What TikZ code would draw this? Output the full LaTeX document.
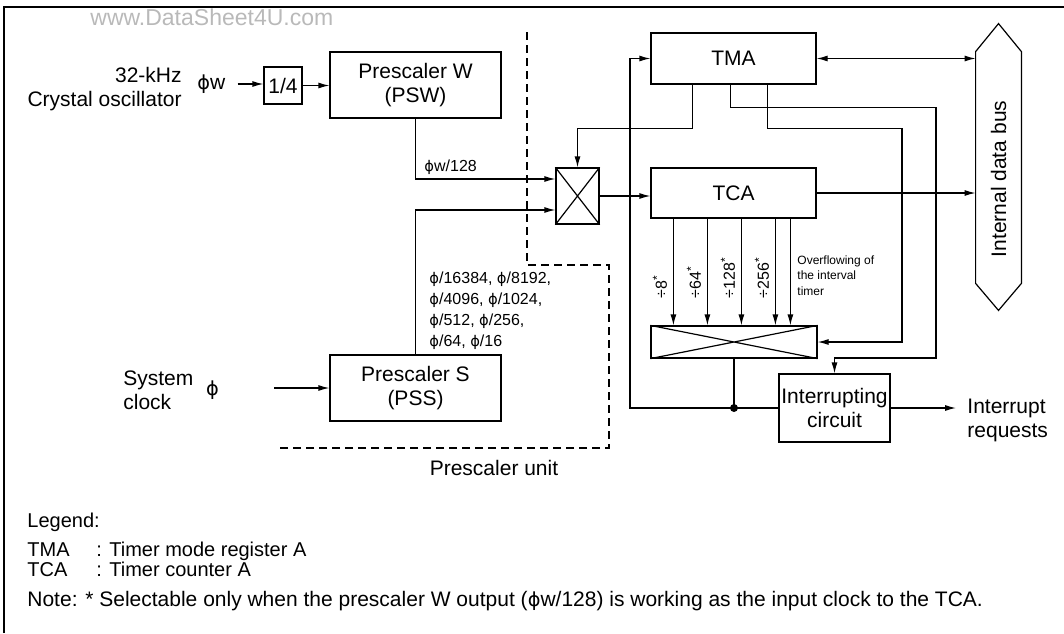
\documentclass[tikz,border=0pt]{standalone}
\usepackage{fontspec}
\setmainfont{Liberation Sans}
\newfontfamily\symfont{DejaVu Sans}[Scale=0.92]
\usetikzlibrary{arrows.meta,positioning,calc}
\newcommand{\ph}{{\symfont\char"03D5}}

\begin{document}
\begin{tikzpicture}[x=0.5pt,y=-0.5pt,font=\fontsize{10.5}{12}\selectfont,
blk/.style={draw,line width=0.6pt,inner sep=0pt,align=center},
lbl/.style={inner sep=0pt,align=left},
key/.style={lbl,anchor=base west,font=\fontsize{10}{12}\selectfont},
small/.style={font=\fontsize{8}{10.5}\selectfont},
tiny/.style={font=\fontsize{6}{7.8}\selectfont},
ln/.style={line width=0.6pt},
arr/.style={-{Latex[length=5.5pt,width=3pt]},line width=0.6pt},
dblarr/.style={{Latex[length=5.5pt,width=3pt]}-{Latex[length=5.5pt,width=3pt]},line width=0.6pt}]
\useasboundingbox (0,0) rectangle (1064,633);
\draw[line width=1pt] (4,633) -- (4,7) -- (1064,7);
\node[lbl,anchor=west,text=gray!55,font=\fontsize{11.5}{12}\selectfont] (wm) at (90,17) {www.DataSheet4U.com};
\node[blk,minimum width=19pt,minimum height=18.5pt] (quarter) at (283,85.5) {1/4};
\node[blk,minimum width=85.5pt,minimum height=33pt] (psw) at (415.5,85) {Prescaler W\\(PSW)};
\node[blk,minimum width=85.5pt,minimum height=33pt] (pss) at (415.5,388) {Prescaler S\\(PSS)};
\node[blk,minimum width=21.5pt,minimum height=28pt] (mux) at (577.5,196) {};
\node[blk,minimum width=82.5pt,minimum height=25.5pt] (tma) at (733.5,58.5) {TMA};
\node[blk,minimum width=82.5pt,minimum height=25pt] (tca) at (733.5,193) {TCA};
\node[blk,minimum width=83pt,minimum height=16pt] (sel) at (734,342) {};
\node[blk,minimum width=55.5pt,minimum height=34pt] (intc) at (834.5,408) {Interrupting\\circuit};
\node[minimum width=22.5pt,minimum height=115.5pt,inner sep=0pt] (bus) at (998.5,167.5) {};
\node[rotate=90] (buslbl) at (998.5,179) {Internal data bus};
\draw[ln] (bus.north west) -- ($(bus.north)+(0,-28)$) -- (bus.north east) -- (bus.south east) -- ($(bus.south)+(0,27)$) -- (bus.south west) -- cycle;
\draw[ln] (mux.north west) -- (mux.south east) (mux.south west) -- (mux.north east);
\draw[ln] (sel.north west) -- (sel.south east) (sel.south west) -- (sel.north east);
\node[lbl,align=right,anchor=east] (xtal) at (182,89) {32-kHz\\Crystal oscillator};
\node[lbl,anchor=west] (phiw) at (197,84) {\ph w};
\draw[arr,shorten <=6pt] (phiw.east) -- (phiw.east -| quarter.west);
\draw[arr] (quarter.east) -- (quarter.east -| psw.west);
\node[lbl,anchor=west] (sysclk) at (123,390) {System\\clock};
\node[lbl,right=6pt of sysclk] (sysphi) {\ph};
\coordinate (sysin) at (274,388);
\draw[arr] (sysin) -- (pss.west);
\coordinate (w128) at (415.5,179);
\draw[arr] (psw.south) -- (w128) -- (w128 -| mux.west);
\node[lbl,small,anchor=base west] (w128lbl) at (424,171) {\ph w/128};
\coordinate (sdiv) at (415.5,210);
\draw[arr] (pss.north) -- (sdiv) -- (sdiv -| mux.west);
\node[lbl,small,anchor=north west] (sdivlbl) at (429,271) {\ph/16384, \ph/8192,\\\ph/4096, \ph/1024,\\\ph/512, \ph/256,\\\ph/64, \ph/16};
\draw[arr] (mux.east) -- (mux.east -| tca.west);
\draw[dblarr] (tma.east) -- (tma.east -| bus.west);
\draw[arr] (tca.east) -- (tca.east -| bus.west);
\draw[arr] ($(tma.south west)+(42,0)$) -- ++(0,44) -| (mux.north);
\draw[arr] ($(tma.south west)+(80,0)$) -- ++(0,23) -| (936,358) -| (intc.north);
\draw[arr] ($(tma.south west)+(117,0)$) -- ++(0,44) -| (902,342) -- (sel.east);
\foreach \dx in {23,57,91,125,140}
  \draw[arr] ($(tca.south west)+(\dx,0)$) -- ($(sel.north west)+(\dx,0)$);
\foreach \dx/\d in {17/8,51/64,85/128,119/256}
  \node[small,rotate=90,anchor=south west,inner sep=0pt] (div\d) at ($(tca.south west)+(\dx,80)$) {÷\d\textsuperscript{*}};
\node[lbl,tiny,anchor=north west] (ovf) at (797,255) {Overflowing of\\the interval\\timer};
\coordinate (jct) at (sel.south |- intc.west);
\draw[ln] (sel.south) -- (jct) -- (intc.west);
\draw[arr] (jct) -- (630,408) |- (tma.west);
\fill (jct) circle (2pt);
\node[lbl,anchor=west,inner xsep=5.5pt] (irq) at (956,420) {Interrupt\\requests};
\draw[arr] (intc.east) -- (intc.east -| irq.west);
\draw[ln,dash pattern=on 4pt off 2.5pt] (527,32) -- (527,265) -- (609,265) -- (609,448) -- (278,448);
\node (unit) at (494,468) {Prescaler unit};
\node[key] (legend) at (27,527) {Legend:};
\node[key] (tmakey) at (27,556) {TMA};
\node[key] (tmadesc) at (96,556) {: Timer mode register A};
\node[key] (tcakey) at (27,576) {TCA};
\node[key] (tcadesc) at (96,576) {: Timer counter A};
\node[lbl,anchor=base west] (note) at (27,606) {Note: * Selectable only when the prescaler W output (\ph w/128) is working as the input clock to the TCA.};
\end{tikzpicture}
\end{document}
